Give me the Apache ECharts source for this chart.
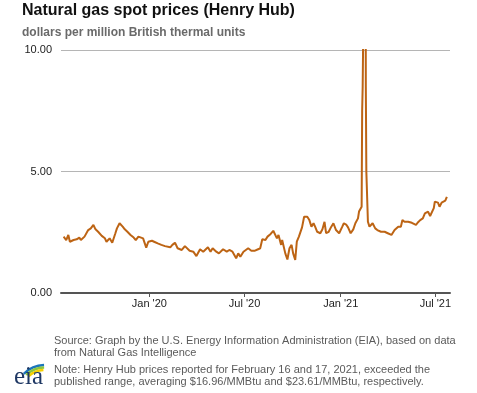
<!DOCTYPE html>
<html>
<head>
<meta charset="utf-8">
<script src="https://cdn.jsdelivr.net/npm/echarts@6/dist/echarts.min.js"></script>
<style>
html,body{margin:0;padding:0;background:#fff;}
#chart{width:477px;height:393px;}
</style>
</head>
<body>
<div id="chart"></div>
<script>
const dates = [
'2019-07-21','2019-07-26','2019-07-30','2019-08-02','2019-08-09','2019-08-15','2019-08-20','2019-08-23','2019-08-30',
'2019-09-06','2019-09-11','2019-09-16','2019-09-20','2019-09-25','2019-10-02','2019-10-08','2019-10-11','2019-10-17',
'2019-10-22','2019-10-28','2019-10-31','2019-11-05','2019-11-11','2019-11-15','2019-11-20','2019-11-26','2019-12-02',
'2019-12-06','2019-12-11','2019-12-13','2019-12-20','2019-12-26','2019-12-30',
'2020-01-06','2020-01-10','2020-01-17','2020-01-24','2020-01-31','2020-02-10','2020-02-14','2020-02-19','2020-02-24',
'2020-03-03','2020-03-09','2020-03-12','2020-03-18','2020-03-25','2020-03-31','2020-04-07','2020-04-13','2020-04-16',
'2020-04-22','2020-04-27','2020-05-01','2020-05-08','2020-05-13','2020-05-15','2020-05-21','2020-05-28','2020-06-02',
'2020-06-08','2020-06-15','2020-06-19','2020-06-23','2020-06-29','2020-07-02','2020-07-08','2020-07-14','2020-07-21',
'2020-07-27','2020-07-31','2020-08-04','2020-08-10','2020-08-14','2020-08-20','2020-08-25','2020-08-28','2020-09-01',
'2020-09-04','2020-09-09','2020-09-11','2020-09-17','2020-09-21','2020-09-25','2020-09-29','2020-10-02','2020-10-06',
'2020-10-09','2020-10-13','2020-10-19','2020-10-23','2020-10-29','2020-11-02','2020-11-06','2020-11-10','2020-11-13',
'2020-11-17','2020-11-23','2020-11-27','2020-12-01','2020-12-04','2020-12-09','2020-12-14','2020-12-18','2020-12-23',
'2020-12-29',
'2021-01-04','2021-01-07','2021-01-12','2021-01-15','2021-01-20','2021-01-25','2021-01-29','2021-02-03','2021-02-05',
'2021-02-08','2021-02-10','2021-02-11','2021-02-12','2021-02-16','2021-02-17','2021-02-18','2021-02-19','2021-02-22',
'2021-02-25','2021-03-03','2021-03-08','2021-03-12','2021-03-19','2021-03-26','2021-04-01','2021-04-08','2021-04-14',
'2021-04-21','2021-04-26','2021-04-29','2021-05-03','2021-05-10','2021-05-17','2021-05-19','2021-05-25','2021-05-28',
'2021-06-02','2021-06-07','2021-06-11','2021-06-17','2021-06-21','2021-06-24','2021-06-28','2021-06-30','2021-07-06',
'2021-07-09','2021-07-13','2021-07-16','2021-07-20','2021-07-23'
];
const prices = [
2.32,2.18,2.39,2.11,2.18,2.21,2.28,2.18,2.32,
2.59,2.66,2.80,2.62,2.52,2.35,2.25,2.11,2.25,
2.07,2.46,2.66,2.87,2.73,2.62,2.52,2.39,2.28,
2.18,2.32,2.39,2.25,1.87,2.11,
2.15,2.11,2.04,1.98,1.93,1.88,1.98,2.07,1.84,
1.77,1.93,1.98,1.74,1.70,1.52,1.80,1.70,1.77,
1.88,1.70,1.84,1.70,1.63,1.70,1.80,1.70,1.77,
1.70,1.43,1.63,1.49,1.70,1.63,1.84,1.74,1.74,
1.80,1.84,2.21,2.18,2.32,2.43,2.56,2.48,2.25,
2.39,1.98,2.18,1.63,1.38,1.84,1.98,1.63,1.36,
2.11,2.32,2.70,3.14,3.14,3.00,2.73,2.87,2.73,
2.52,2.46,2.62,2.93,2.46,2.52,2.73,2.87,2.59,
2.46,
2.73,2.87,2.80,2.70,2.46,2.62,2.87,3.07,3.35,
3.28,3.55,7.50,8.50,16.96,23.61,8.50,5.00,2.93,
2.73,2.87,2.66,2.59,2.52,2.52,2.46,2.39,2.59,
2.73,2.73,3.00,2.93,2.93,2.89,2.93,2.80,2.89,
3.00,3.07,3.28,3.35,3.17,3.21,3.49,3.76,3.72,
3.55,3.72,3.72,3.80,3.96
];
const yTicks = [0, 5, 10];
const xTickDates = ['2020-01-01','2020-07-01','2021-01-01','2021-07-01'];
const xTickLabels = ["Jan '20", "Jul '20", "Jan '21", "Jul '21"];
const xRange = ['2019-07-16', '2021-07-29'];

const toTs = s => +new Date(s + 'T00:00:00');
const xTickVals = xTickDates.map(toTs);
const seriesData = dates.map((d, i) => [toTs(d), prices[i]]);

const chart = echarts.init(document.getElementById('chart'), null, {renderer: 'canvas'});
const FONT = 'Arial, "Liberation Sans", sans-serif';
const SERIF = '"Liberation Serif", "DejaVu Serif", serif';
chart.setOption({
  animation: false,
  backgroundColor: '#fff',
  textStyle: {fontFamily: FONT},
  grid: {left: 61, right: 27, top: 50, bottom: 100, containLabel: false},
  xAxis: {
    type: 'value',
    min: toTs(xRange[0]),
    max: toTs(xRange[1]),
    axisLine: {show: true, lineStyle: {color: '#555', width: 2}},
    axisTick: {show: true, customValues: xTickVals, length: 4, lineStyle: {color: '#555', width: 1}},
    axisLabel: {
      customValues: xTickVals,
      fontSize: 11, color: '#222', fontFamily: FONT, margin: 5,
      formatter: v => { const i = xTickVals.indexOf(v); return i >= 0 ? xTickLabels[i] : ''; }
    },
    splitLine: {show: false}
  },
  yAxis: {
    type: 'value',
    min: yTicks[0], max: yTicks[yTicks.length - 1], interval: 5,
    axisLine: {show: false},
    axisTick: {show: false},
    axisLabel: {fontSize: 11, color: '#222', fontFamily: FONT, margin: 9, formatter: v => v.toFixed(2)},
    splitLine: {show: true, lineStyle: {color: '#b5b5b5', width: 1}}
  },
  series: [{
    type: 'line',
    data: seriesData,
    showSymbol: false,
    clip: true,
    lineStyle: {color: '#bd6414', width: 2},
    z: 3
  }],
  graphic: [
    {type: 'text', left: 22, top: 3, style: {text: 'Natural gas spot prices (Henry Hub)', font: 'bold 16px ' + FONT, fill: '#111'}},
    {type: 'text', left: 22, top: 27, style: {text: 'dollars per million British thermal units', font: 'bold 12px ' + FONT, fill: '#6a6a6a'}},
    {type: 'text', left: 54, top: 335, style: {text: 'Source: Graph by the U.S. Energy Information Administration (EIA), based on data', font: '11px ' + FONT, fill: '#5a5a5a'}},
    {type: 'text', left: 54, top: 347, style: {text: 'from Natural Gas Intelligence', font: '11px ' + FONT, fill: '#5a5a5a'}},
    {type: 'text', left: 54, top: 364, style: {text: 'Note: Henry Hub prices reported for February 16 and 17, 2021, exceeded the', font: '11px ' + FONT, fill: '#5a5a5a'}},
    {type: 'text', left: 54, top: 376, style: {text: 'published range, averaging $16.96/MMBtu and $23.61/MMBtu, respectively.', font: '11px ' + FONT, fill: '#5a5a5a'}},
    {type: 'arc', shape: {cx: 45, cy: 395, r: 30, startAngle: Math.PI * 1.25, endAngle: Math.PI * 1.49}, style: {stroke: '#1b75bb', lineWidth: 2.5, fill: null}},
    {type: 'arc', shape: {cx: 45, cy: 395, r: 27.5, startAngle: Math.PI * 1.26, endAngle: Math.PI * 1.49}, style: {stroke: '#8dc63f', lineWidth: 2.5, fill: null}},
    {type: 'arc', shape: {cx: 45, cy: 395, r: 25, startAngle: Math.PI * 1.27, endAngle: Math.PI * 1.48}, style: {stroke: '#f5d000', lineWidth: 2.5, fill: null}},
    {type: 'text', left: 14, top: 365, style: {text: 'eia', font: '25px ' + SERIF, fill: '#1f3864'}}
  ]
});
</script>
</body>
</html>
